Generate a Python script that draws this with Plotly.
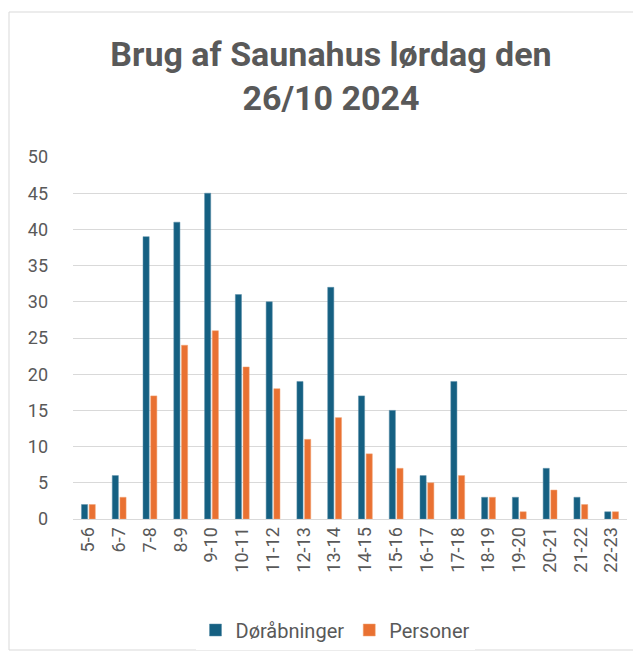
import plotly.graph_objects as go

categories = ["5-6","6-7","7-8","8-9","9-10","10-11","11-12","12-13","13-14","14-15",
              "15-16","16-17","17-18","18-19","19-20","20-21","21-22","22-23"]
dorabninger = [2,6,39,41,45,31,30,19,32,17,15,6,19,3,3,7,3,1]
personer = [2,3,17,24,26,21,18,11,14,9,7,5,6,3,1,4,2,1]

FONT = "Liberation Sans Narrow, Arial Narrow, Roboto, sans-serif"
GREY = "#595959"

fig = go.Figure()
fig.add_bar(x=categories, y=dorabninger, name="Døråbninger", marker_color="#156082",
            marker_line=dict(color="#5b8fa8", width=0.5))
fig.add_bar(x=categories, y=personer, name="Personer", marker_color="#E97132",
            marker_line=dict(color="#f0a070", width=0.5))

W, H = 641, 661
OFF = 8  # page offset
ml, mr, mt, mb = 65, 22, 149, 150
pw, ph = W - ml - mr, H - mt - mb
def px_x(p): return (p - OFF - ml) / pw
def px_y(p): return (H - mb - (p - OFF)) / ph

fig.update_layout(
    width=W, height=H,
    margin=dict(l=ml, r=mr, t=mt, b=mb),
    paper_bgcolor="white", plot_bgcolor="white",
    barmode="group", bargap=0.5, bargroupgap=0.2,
    title=dict(text="<b>Brug af Saunahus lørdag den<br>26/10 2024</b>",
               x=px_x(331), xref="paper", xanchor="center", y=1 - 58 / H, yanchor="middle",
               font=dict(family=FONT, size=34, color=GREY)),
    font=dict(family=FONT, color=GREY, size=18),
    xaxis=dict(type="category", tickangle=-90, tickfont=dict(size=18, color=GREY), showline=True,
               linecolor="#D9D9D9", linewidth=1, ticks="", showgrid=False),
    yaxis=dict(range=[0, 50], dtick=5, showgrid=True, gridcolor="#D9D9D9", gridwidth=1,
               tickfont=dict(size=18, color=GREY), zeroline=False, ticks="",
               ticklabelstandoff=24),
    legend=dict(orientation="h", x=px_x(335), xanchor="center", y=px_y(630), yanchor="middle",
                font=dict(size=20, color=GREY), itemwidth=30, traceorder="normal"),
    shapes=[dict(type="rect", xref="paper", yref="paper",
                 x0=px_x(9), x1=px_x(660), y0=px_y(650), y1=px_y(12),
                 line=dict(color="#D9D9D9", width=1), fillcolor="rgba(0,0,0,0)", layer="below")],
)

fig.write_html("out.html")
